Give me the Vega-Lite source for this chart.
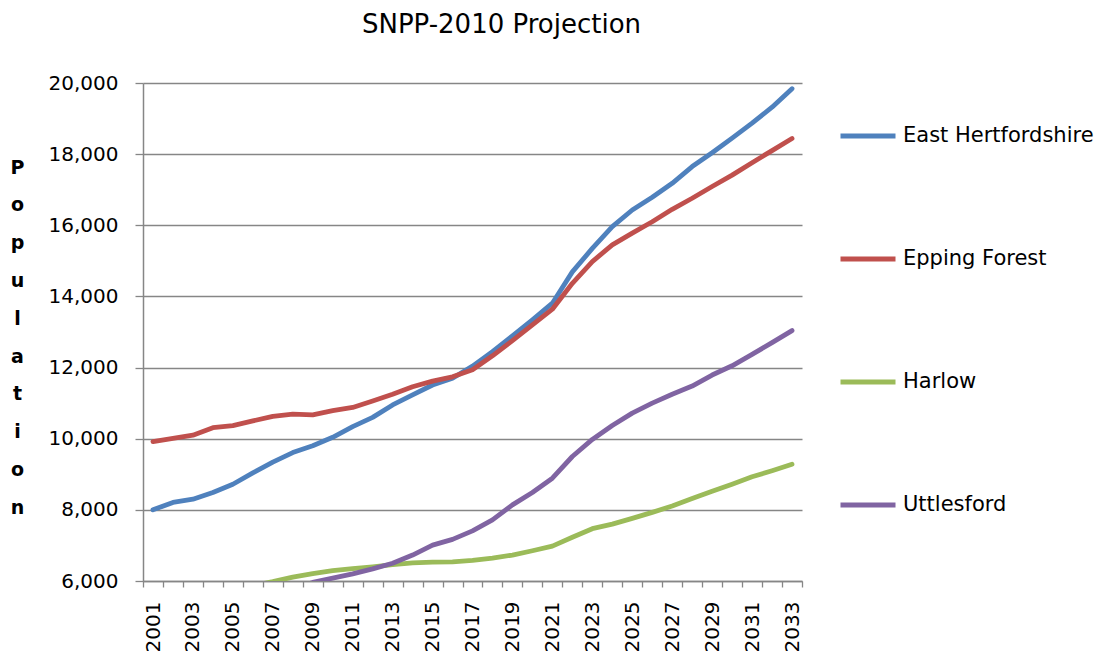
{
  "$schema": "https://vega.github.io/schema/vega-lite/v6.json",
  "width": 659,
  "height": 498,
  "autosize": "none",
  "padding": {"left": 143, "top": 83, "right": 302, "bottom": 74},
  "background": "white",
  "title": {
    "text": "SNPP-2010 Projection",
    "font": "DejaVu Sans",
    "fontSize": 26,
    "fontWeight": "normal",
    "color": "black",
    "anchor": "middle",
    "dx": 29,
    "offset": 35
  },
  "config": {"view": {"stroke": null}},
  "data": {
    "values": [
      {"year": 2001, "area": "East Hertfordshire", "pop": 8000},
      {"year": 2002, "area": "East Hertfordshire", "pop": 8210},
      {"year": 2003, "area": "East Hertfordshire", "pop": 8300},
      {"year": 2004, "area": "East Hertfordshire", "pop": 8490},
      {"year": 2005, "area": "East Hertfordshire", "pop": 8720},
      {"year": 2006, "area": "East Hertfordshire", "pop": 9040},
      {"year": 2007, "area": "East Hertfordshire", "pop": 9340},
      {"year": 2008, "area": "East Hertfordshire", "pop": 9610},
      {"year": 2009, "area": "East Hertfordshire", "pop": 9800},
      {"year": 2010, "area": "East Hertfordshire", "pop": 10040},
      {"year": 2011, "area": "East Hertfordshire", "pop": 10340},
      {"year": 2012, "area": "East Hertfordshire", "pop": 10600},
      {"year": 2013, "area": "East Hertfordshire", "pop": 10950},
      {"year": 2014, "area": "East Hertfordshire", "pop": 11230},
      {"year": 2015, "area": "East Hertfordshire", "pop": 11510},
      {"year": 2016, "area": "East Hertfordshire", "pop": 11700},
      {"year": 2017, "area": "East Hertfordshire", "pop": 12040},
      {"year": 2018, "area": "East Hertfordshire", "pop": 12450},
      {"year": 2019, "area": "East Hertfordshire", "pop": 12890},
      {"year": 2020, "area": "East Hertfordshire", "pop": 13340},
      {"year": 2021, "area": "East Hertfordshire", "pop": 13810},
      {"year": 2022, "area": "East Hertfordshire", "pop": 14690},
      {"year": 2023, "area": "East Hertfordshire", "pop": 15350},
      {"year": 2024, "area": "East Hertfordshire", "pop": 15960},
      {"year": 2025, "area": "East Hertfordshire", "pop": 16430},
      {"year": 2026, "area": "East Hertfordshire", "pop": 16790},
      {"year": 2027, "area": "East Hertfordshire", "pop": 17180},
      {"year": 2028, "area": "East Hertfordshire", "pop": 17650},
      {"year": 2029, "area": "East Hertfordshire", "pop": 18040},
      {"year": 2030, "area": "East Hertfordshire", "pop": 18450},
      {"year": 2031, "area": "East Hertfordshire", "pop": 18870},
      {"year": 2032, "area": "East Hertfordshire", "pop": 19320},
      {"year": 2033, "area": "East Hertfordshire", "pop": 19840},
      {"year": 2001, "area": "Epping Forest", "pop": 9920},
      {"year": 2002, "area": "Epping Forest", "pop": 10010},
      {"year": 2003, "area": "Epping Forest", "pop": 10100},
      {"year": 2004, "area": "Epping Forest", "pop": 10310},
      {"year": 2005, "area": "Epping Forest", "pop": 10370},
      {"year": 2006, "area": "Epping Forest", "pop": 10500},
      {"year": 2007, "area": "Epping Forest", "pop": 10630},
      {"year": 2008, "area": "Epping Forest", "pop": 10690},
      {"year": 2009, "area": "Epping Forest", "pop": 10670},
      {"year": 2010, "area": "Epping Forest", "pop": 10790},
      {"year": 2011, "area": "Epping Forest", "pop": 10880},
      {"year": 2012, "area": "Epping Forest", "pop": 11060},
      {"year": 2013, "area": "Epping Forest", "pop": 11250},
      {"year": 2014, "area": "Epping Forest", "pop": 11460},
      {"year": 2015, "area": "Epping Forest", "pop": 11620},
      {"year": 2016, "area": "Epping Forest", "pop": 11740},
      {"year": 2017, "area": "Epping Forest", "pop": 11940},
      {"year": 2018, "area": "Epping Forest", "pop": 12330},
      {"year": 2019, "area": "Epping Forest", "pop": 12760},
      {"year": 2020, "area": "Epping Forest", "pop": 13200},
      {"year": 2021, "area": "Epping Forest", "pop": 13640},
      {"year": 2022, "area": "Epping Forest", "pop": 14370},
      {"year": 2023, "area": "Epping Forest", "pop": 14980},
      {"year": 2024, "area": "Epping Forest", "pop": 15450},
      {"year": 2025, "area": "Epping Forest", "pop": 15780},
      {"year": 2026, "area": "Epping Forest", "pop": 16100},
      {"year": 2027, "area": "Epping Forest", "pop": 16450},
      {"year": 2028, "area": "Epping Forest", "pop": 16760},
      {"year": 2029, "area": "Epping Forest", "pop": 17090},
      {"year": 2030, "area": "Epping Forest", "pop": 17410},
      {"year": 2031, "area": "Epping Forest", "pop": 17760},
      {"year": 2032, "area": "Epping Forest", "pop": 18100},
      {"year": 2033, "area": "Epping Forest", "pop": 18440},
      {"year": 2001, "area": "Harlow", "pop": 5450},
      {"year": 2002, "area": "Harlow", "pop": 5530},
      {"year": 2003, "area": "Harlow", "pop": 5610},
      {"year": 2004, "area": "Harlow", "pop": 5700},
      {"year": 2005, "area": "Harlow", "pop": 5780},
      {"year": 2006, "area": "Harlow", "pop": 5870},
      {"year": 2007, "area": "Harlow", "pop": 5980},
      {"year": 2008, "area": "Harlow", "pop": 6110},
      {"year": 2009, "area": "Harlow", "pop": 6210},
      {"year": 2010, "area": "Harlow", "pop": 6290},
      {"year": 2011, "area": "Harlow", "pop": 6350},
      {"year": 2012, "area": "Harlow", "pop": 6400},
      {"year": 2013, "area": "Harlow", "pop": 6460},
      {"year": 2014, "area": "Harlow", "pop": 6510},
      {"year": 2015, "area": "Harlow", "pop": 6530},
      {"year": 2016, "area": "Harlow", "pop": 6540},
      {"year": 2017, "area": "Harlow", "pop": 6580},
      {"year": 2018, "area": "Harlow", "pop": 6640},
      {"year": 2019, "area": "Harlow", "pop": 6730},
      {"year": 2020, "area": "Harlow", "pop": 6850},
      {"year": 2021, "area": "Harlow", "pop": 6980},
      {"year": 2022, "area": "Harlow", "pop": 7230},
      {"year": 2023, "area": "Harlow", "pop": 7470},
      {"year": 2024, "area": "Harlow", "pop": 7600},
      {"year": 2025, "area": "Harlow", "pop": 7760},
      {"year": 2026, "area": "Harlow", "pop": 7930},
      {"year": 2027, "area": "Harlow", "pop": 8110},
      {"year": 2028, "area": "Harlow", "pop": 8320},
      {"year": 2029, "area": "Harlow", "pop": 8520},
      {"year": 2030, "area": "Harlow", "pop": 8720},
      {"year": 2031, "area": "Harlow", "pop": 8930},
      {"year": 2032, "area": "Harlow", "pop": 9100},
      {"year": 2033, "area": "Harlow", "pop": 9280},
      {"year": 2001, "area": "Uttlesford", "pop": 5000},
      {"year": 2002, "area": "Uttlesford", "pop": 5100},
      {"year": 2003, "area": "Uttlesford", "pop": 5200},
      {"year": 2004, "area": "Uttlesford", "pop": 5300},
      {"year": 2005, "area": "Uttlesford", "pop": 5400},
      {"year": 2006, "area": "Uttlesford", "pop": 5500},
      {"year": 2007, "area": "Uttlesford", "pop": 5600},
      {"year": 2008, "area": "Uttlesford", "pop": 5750},
      {"year": 2009, "area": "Uttlesford", "pop": 5960},
      {"year": 2010, "area": "Uttlesford", "pop": 6080},
      {"year": 2011, "area": "Uttlesford", "pop": 6200},
      {"year": 2012, "area": "Uttlesford", "pop": 6340},
      {"year": 2013, "area": "Uttlesford", "pop": 6500},
      {"year": 2014, "area": "Uttlesford", "pop": 6730},
      {"year": 2015, "area": "Uttlesford", "pop": 7010},
      {"year": 2016, "area": "Uttlesford", "pop": 7170},
      {"year": 2017, "area": "Uttlesford", "pop": 7410},
      {"year": 2018, "area": "Uttlesford", "pop": 7720},
      {"year": 2019, "area": "Uttlesford", "pop": 8140},
      {"year": 2020, "area": "Uttlesford", "pop": 8490},
      {"year": 2021, "area": "Uttlesford", "pop": 8890},
      {"year": 2022, "area": "Uttlesford", "pop": 9500},
      {"year": 2023, "area": "Uttlesford", "pop": 9980},
      {"year": 2024, "area": "Uttlesford", "pop": 10370},
      {"year": 2025, "area": "Uttlesford", "pop": 10720},
      {"year": 2026, "area": "Uttlesford", "pop": 11000},
      {"year": 2027, "area": "Uttlesford", "pop": 11250},
      {"year": 2028, "area": "Uttlesford", "pop": 11480},
      {"year": 2029, "area": "Uttlesford", "pop": 11790},
      {"year": 2030, "area": "Uttlesford", "pop": 12050},
      {"year": 2031, "area": "Uttlesford", "pop": 12370},
      {"year": 2032, "area": "Uttlesford", "pop": 12700},
      {"year": 2033, "area": "Uttlesford", "pop": 13040}
    ]
  },
  "mark": {"type": "line", "clip": true, "strokeWidth": 4.8, "strokeCap": "round", "strokeJoin": "round"},
  "encoding": {
    "x": {
      "field": "year",
      "type": "quantitative",
      "scale": {"domain": [2000.5, 2033.5], "nice": false, "zero": false},
      "axis": {
        "title": null,
        "values": [2000.5, 2001.5, 2002.5, 2003.5, 2004.5, 2005.5, 2006.5, 2007.5, 2008.5, 2009.5, 2010.5, 2011.5, 2012.5, 2013.5, 2014.5, 2015.5, 2016.5, 2017.5, 2018.5, 2019.5, 2020.5, 2021.5, 2022.5, 2023.5, 2024.5, 2025.5, 2026.5, 2027.5, 2028.5, 2029.5, 2030.5, 2031.5, 2032.5, 2033.5],
        "labelExpr": "((datum.value + 0.5) % 2 == 1 && datum.value < 2033) ? format(datum.value + 0.5, 'd') : ''",
        "labelOffset": 10,
        "labelAngle": -90,
        "labelAlign": "right",
        "labelBaseline": "middle",
        "labelPadding": 14,
        "labelOverlap": false,
        "labelFlush": false,
        "labelFont": "DejaVu Sans",
        "labelFontSize": 20,
        "labelColor": "black",
        "tickSize": 6,
        "tickColor": "#868686",
        "tickWidth": 1.3,
        "domainColor": "#868686",
        "domainWidth": 1.5,
        "grid": false
      }
    },
    "y": {
      "field": "pop",
      "type": "quantitative",
      "scale": {"domain": [6000, 20000], "nice": false, "zero": false},
      "axis": {
        "values": [6000, 8000, 10000, 12000, 14000, 16000, 18000, 20000],
        "format": ",d",
        "title": ["P", "o", "p", "u", "l", "a", "t", "i", "o", "n"],
        "titleAngle": 0,
        "titleX": -126,
        "titleY": 90,
        "titleAlign": "center",
        "titleBaseline": "alphabetic",
        "titleLineHeight": 37.8,
        "titleFont": "DejaVu Sans",
        "titleFontSize": 19,
        "titleFontWeight": "bold",
        "titleColor": "black",
        "labelFont": "DejaVu Sans",
        "labelFontSize": 20,
        "labelColor": "black",
        "labelPadding": 17,
        "tickSize": 8,
        "tickColor": "#868686",
        "tickWidth": 1.3,
        "domainColor": "#868686",
        "domainWidth": 1.5,
        "grid": true,
        "gridColor": "#868686",
        "gridWidth": 1.5
      }
    },
    "color": {
      "field": "area",
      "type": "nominal",
      "scale": {
        "domain": ["East Hertfordshire", "Epping Forest", "Harlow", "Uttlesford"],
        "range": ["#4F81BD", "#C0504D", "#9BBB59", "#8064A2"]
      },
      "legend": {
        "title": null,
        "orient": "none",
        "legendX": 695,
        "legendY": 23,
        "symbolType": "stroke",
        "symbolSize": 3025,
        "symbolStrokeWidth": 5,
        "labelFont": "DejaVu Sans",
        "labelFontSize": 21,
        "labelColor": "black",
        "labelOffset": 5,
        "rowPadding": 83,
        "labelLimit": 400
      }
    }
  }
}
